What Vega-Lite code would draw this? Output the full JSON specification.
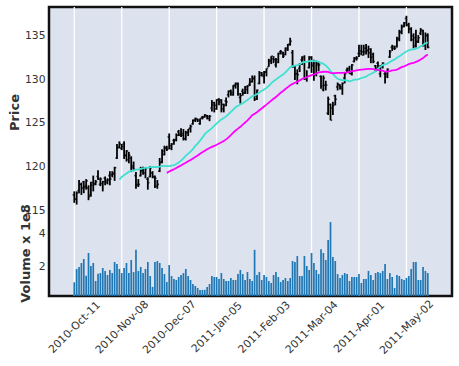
{
"$schema": "https://vega.github.io/schema/vega-lite/v6.json",
"width": 403, "height": 289,
"autosize": "none",
"padding": {"left": 49, "top": 7, "right": 7, "bottom": 70},
"background": "white",
"config": {
 "view": {"fill": "#DCE3EF", "stroke": "#111111", "strokeWidth": 2.5},
 "axis": {"labelFont": "DejaVu Sans", "labelFontSize": 10.8, "labelColor": "#333333", "titleFont": "DejaVu Sans", "titleFontSize": 13, "titleFontWeight": "bold", "titleColor": "#333333", "grid": false, "domain": false, "ticks": false, "labelPadding": 4}
},
"data": {"values": [
{"i":0,"date":"2010-10-11","open":116.8,"high":117.2,"low":115.9,"close":116.3,"volume":1.03},
{"i":1,"date":"2010-10-12","open":116.3,"high":117.2,"low":115.7,"close":117.0,"volume":1.84},
{"i":2,"date":"2010-10-13","open":117.3,"high":118.5,"low":117.0,"close":118.0,"volume":1.96},
{"i":3,"date":"2010-10-14","open":118.0,"high":118.2,"low":116.8,"close":117.6,"volume":2.20},
{"i":4,"date":"2010-10-15","open":118.3,"high":118.4,"low":117.0,"close":117.7,"volume":2.44},
{"i":5,"date":"2010-10-18","open":117.8,"high":118.6,"low":117.4,"close":118.4,"volume":1.43},
{"i":6,"date":"2010-10-19","open":117.6,"high":117.9,"low":116.2,"close":116.6,"volume":2.81},
{"i":7,"date":"2010-10-20","open":116.8,"high":118.3,"low":116.6,"close":117.9,"volume":2.02},
{"i":8,"date":"2010-10-21","open":118.2,"high":119.0,"low":117.2,"close":118.0,"volume":2.20},
{"i":9,"date":"2010-10-22","open":118.1,"high":118.5,"low":117.9,"close":118.3,"volume":1.11},
{"i":10,"date":"2010-10-25","open":118.9,"high":119.6,"low":118.5,"close":118.6,"volume":1.55},
{"i":11,"date":"2010-10-26","open":118.0,"high":118.8,"low":117.8,"close":118.6,"volume":1.59},
{"i":12,"date":"2010-10-27","open":118.1,"high":118.4,"low":117.2,"close":118.3,"volume":1.90},
{"i":13,"date":"2010-10-28","open":118.7,"high":118.9,"low":117.9,"close":118.4,"volume":1.72},
{"i":14,"date":"2010-10-29","open":118.2,"high":118.7,"low":118.0,"close":118.5,"volume":1.47},
{"i":15,"date":"2010-11-01","open":119.0,"high":119.5,"low":117.9,"close":118.6,"volume":1.78},
{"i":16,"date":"2010-11-02","open":119.1,"high":119.5,"low":118.8,"close":119.3,"volume":1.59},
{"i":17,"date":"2010-11-03","open":119.2,"high":120.0,"low":118.4,"close":119.9,"volume":2.26},
{"i":18,"date":"2010-11-04","open":121.0,"high":122.6,"low":120.9,"close":122.2,"volume":2.14},
{"i":19,"date":"2010-11-05","open":122.2,"high":122.9,"low":122.1,"close":122.6,"volume":1.84},
{"i":20,"date":"2010-11-08","open":122.1,"high":122.6,"low":121.9,"close":122.3,"volume":1.59},
{"i":21,"date":"2010-11-09","open":122.6,"high":122.9,"low":120.9,"close":121.3,"volume":1.90},
{"i":22,"date":"2010-11-10","open":121.3,"high":121.9,"low":120.6,"close":121.8,"volume":2.20},
{"i":23,"date":"2010-11-11","open":120.8,"high":121.7,"low":120.4,"close":121.3,"volume":1.59},
{"i":24,"date":"2010-11-12","open":121.0,"high":121.2,"low":119.4,"close":119.9,"volume":2.38},
{"i":25,"date":"2010-11-15","open":120.1,"high":120.6,"low":119.5,"close":119.7,"volume":1.65},
{"i":26,"date":"2010-11-16","open":119.0,"high":119.4,"low":117.5,"close":117.9,"volume":3.00},
{"i":27,"date":"2010-11-17","open":118.0,"high":118.6,"low":117.7,"close":118.0,"volume":1.72},
{"i":28,"date":"2010-11-18","open":119.0,"high":120.0,"low":118.9,"close":119.6,"volume":1.96},
{"i":29,"date":"2010-11-19","open":119.5,"high":120.0,"low":119.1,"close":119.9,"volume":1.59},
{"i":30,"date":"2010-11-22","open":119.3,"high":119.9,"low":118.7,"close":119.8,"volume":1.84},
{"i":31,"date":"2010-11-23","open":118.6,"high":118.8,"low":117.4,"close":118.2,"volume":2.26},
{"i":32,"date":"2010-11-24","open":118.9,"high":120.1,"low":118.8,"close":119.9,"volume":1.41},
{"i":33,"date":"2010-11-26","open":119.3,"high":119.5,"low":118.7,"close":118.9,"volume":0.75},
{"i":34,"date":"2010-11-29","open":118.8,"high":119.0,"low":117.6,"close":118.7,"volume":2.26},
{"i":35,"date":"2010-11-30","open":117.8,"high":118.5,"low":117.5,"close":118.0,"volume":2.32},
{"i":36,"date":"2010-12-01","open":119.5,"high":121.0,"low":119.4,"close":120.5,"volume":2.20},
{"i":37,"date":"2010-12-02","open":120.5,"high":122.0,"low":120.4,"close":121.8,"volume":1.90},
{"i":38,"date":"2010-12-03","open":121.4,"high":122.4,"low":121.3,"close":122.2,"volume":1.53},
{"i":39,"date":"2010-12-06","open":122.1,"high":122.4,"low":121.8,"close":122.0,"volume":1.05},
{"i":40,"date":"2010-12-07","open":123.4,"high":123.8,"low":122.0,"close":122.1,"volume":2.08},
{"i":41,"date":"2010-12-08","open":122.4,"high":122.7,"low":121.9,"close":122.6,"volume":1.41},
{"i":42,"date":"2010-12-09","open":123.0,"high":123.2,"low":122.5,"close":123.0,"volume":1.23},
{"i":43,"date":"2010-12-10","open":123.1,"high":123.8,"low":122.9,"close":123.6,"volume":1.17},
{"i":44,"date":"2010-12-13","open":124.0,"high":124.2,"low":123.5,"close":123.6,"volume":1.35},
{"i":45,"date":"2010-12-14","open":123.7,"high":124.4,"low":123.4,"close":123.8,"volume":1.47},
{"i":46,"date":"2010-12-15","open":123.6,"high":124.3,"low":123.0,"close":123.2,"volume":1.59},
{"i":47,"date":"2010-12-16","open":123.2,"high":124.1,"low":123.0,"close":123.9,"volume":1.84},
{"i":48,"date":"2010-12-17","open":123.9,"high":124.3,"low":123.5,"close":124.3,"volume":1.41},
{"i":49,"date":"2010-12-20","open":124.4,"high":124.8,"low":123.9,"close":124.6,"volume":1.17},
{"i":50,"date":"2010-12-21","open":124.9,"high":125.4,"low":124.8,"close":125.3,"volume":0.93},
{"i":51,"date":"2010-12-22","open":125.3,"high":125.6,"low":125.1,"close":125.5,"volume":0.81},
{"i":52,"date":"2010-12-23","open":125.4,"high":125.5,"low":125.1,"close":125.3,"volume":0.69},
{"i":53,"date":"2010-12-27","open":124.9,"high":125.5,"low":124.8,"close":125.5,"volume":0.57},
{"i":54,"date":"2010-12-28","open":125.6,"high":125.8,"low":125.4,"close":125.6,"volume":0.57},
{"i":55,"date":"2010-12-29","open":125.7,"high":126.0,"low":125.6,"close":125.9,"volume":0.57},
{"i":56,"date":"2010-12-30","open":125.8,"high":125.9,"low":125.4,"close":125.7,"volume":0.75},
{"i":57,"date":"2010-12-31","open":125.5,"high":125.9,"low":125.2,"close":125.75,"volume":0.93},
{"i":58,"date":"2011-01-03","open":126.7,"high":127.6,"low":126.3,"close":127.05,"volume":1.41},
{"i":59,"date":"2011-01-04","open":127.3,"high":127.4,"low":126.2,"close":127.0,"volume":1.35},
{"i":60,"date":"2011-01-05","open":126.6,"high":127.7,"low":126.5,"close":127.6,"volume":1.35},
{"i":61,"date":"2011-01-06","open":127.7,"high":127.8,"low":127.0,"close":127.4,"volume":1.23},
{"i":62,"date":"2011-01-07","open":127.6,"high":127.7,"low":126.2,"close":127.1,"volume":1.59},
{"i":63,"date":"2011-01-10","open":126.6,"high":127.2,"low":126.2,"close":127.0,"volume":1.23},
{"i":64,"date":"2011-01-11","open":127.5,"high":127.9,"low":126.9,"close":127.4,"volume":1.11},
{"i":65,"date":"2011-01-12","open":128.2,"high":128.7,"low":127.9,"close":128.6,"volume":1.11},
{"i":66,"date":"2011-01-13","open":128.6,"high":128.8,"low":128.1,"close":128.4,"volume":1.29},
{"i":67,"date":"2011-01-14","open":128.2,"high":129.3,"low":128.1,"close":129.3,"volume":1.17},
{"i":68,"date":"2011-01-18","open":129.2,"high":129.6,"low":128.9,"close":129.5,"volume":1.17},
{"i":69,"date":"2011-01-19","open":129.4,"high":129.6,"low":128.1,"close":128.3,"volume":1.53},
{"i":70,"date":"2011-01-20","open":127.9,"high":128.4,"low":127.2,"close":128.1,"volume":1.78},
{"i":71,"date":"2011-01-21","open":128.6,"high":128.9,"low":128.1,"close":128.4,"volume":1.53},
{"i":72,"date":"2011-01-24","open":128.4,"high":129.2,"low":128.3,"close":129.1,"volume":1.17},
{"i":73,"date":"2011-01-25","open":128.8,"high":129.3,"low":128.3,"close":129.2,"volume":1.65},
{"i":74,"date":"2011-01-26","open":129.4,"high":130.1,"low":129.2,"close":129.7,"volume":1.23},
{"i":75,"date":"2011-01-27","open":129.7,"high":130.4,"low":129.6,"close":130.0,"volume":1.11},
{"i":76,"date":"2011-01-28","open":130.1,"high":130.4,"low":127.5,"close":127.7,"volume":3.00},
{"i":77,"date":"2011-01-31","open":128.1,"high":128.8,"low":127.6,"close":128.7,"volume":1.47},
{"i":78,"date":"2011-02-01","open":129.5,"high":130.9,"low":129.4,"close":130.7,"volume":1.65},
{"i":79,"date":"2011-02-02","open":130.4,"high":130.8,"low":130.3,"close":130.5,"volume":1.17},
{"i":80,"date":"2011-02-03","open":130.3,"high":130.9,"low":129.5,"close":130.8,"volume":1.47},
{"i":81,"date":"2011-02-04","open":130.8,"high":131.2,"low":130.3,"close":131.2,"volume":1.35},
{"i":82,"date":"2011-02-07","open":131.4,"high":132.3,"low":131.4,"close":132.0,"volume":1.11},
{"i":83,"date":"2011-02-08","open":132.1,"high":132.6,"low":131.7,"close":132.6,"volume":0.99},
{"i":84,"date":"2011-02-09","open":132.3,"high":132.6,"low":131.8,"close":132.2,"volume":1.47},
{"i":85,"date":"2011-02-10","open":131.6,"high":132.4,"low":131.3,"close":132.2,"volume":1.65},
{"i":86,"date":"2011-02-11","open":131.9,"high":133.0,"low":131.8,"close":132.9,"volume":1.35},
{"i":87,"date":"2011-02-14","open":133.1,"high":133.3,"low":132.8,"close":133.1,"volume":1.05},
{"i":88,"date":"2011-02-15","open":132.9,"high":133.1,"low":132.4,"close":132.6,"volume":1.17},
{"i":89,"date":"2011-02-16","open":132.8,"high":133.6,"low":132.7,"close":133.5,"volume":1.29},
{"i":90,"date":"2011-02-17","open":133.3,"high":134.0,"low":133.2,"close":133.9,"volume":1.11},
{"i":91,"date":"2011-02-18","open":134.0,"high":134.7,"low":133.8,"close":134.3,"volume":1.29},
{"i":92,"date":"2011-02-22","open":133.0,"high":133.3,"low":131.3,"close":131.4,"volume":2.32},
{"i":93,"date":"2011-02-23","open":131.5,"high":131.6,"low":129.9,"close":130.6,"volume":2.26},
{"i":94,"date":"2011-02-24","open":130.6,"high":131.1,"low":129.4,"close":130.5,"volume":2.62},
{"i":95,"date":"2011-02-25","open":131.2,"high":131.8,"low":130.8,"close":131.7,"volume":1.41},
{"i":96,"date":"2011-02-28","open":132.2,"high":132.6,"low":131.6,"close":132.3,"volume":1.41},
{"i":97,"date":"2011-03-01","open":132.5,"high":132.7,"low":129.9,"close":130.1,"volume":2.62},
{"i":98,"date":"2011-03-02","open":130.0,"high":131.0,"low":129.7,"close":130.3,"volume":2.02},
{"i":99,"date":"2011-03-03","open":131.3,"high":132.6,"low":131.2,"close":132.5,"volume":1.78},
{"i":100,"date":"2011-03-04","open":132.4,"high":132.6,"low":130.7,"close":131.5,"volume":2.81},
{"i":101,"date":"2011-03-07","open":131.7,"high":132.2,"low":129.8,"close":130.6,"volume":2.20},
{"i":102,"date":"2011-03-08","open":130.6,"high":132.1,"low":130.3,"close":131.8,"volume":1.78},
{"i":103,"date":"2011-03-09","open":131.6,"high":132.0,"low":130.9,"close":131.6,"volume":1.53},
{"i":104,"date":"2011-03-10","open":130.3,"high":130.4,"low":128.9,"close":129.2,"volume":3.04},
{"i":105,"date":"2011-03-11","open":128.8,"high":130.4,"low":128.6,"close":130.1,"volume":2.81},
{"i":106,"date":"2011-03-14","open":129.3,"high":129.8,"low":128.7,"close":129.3,"volume":2.38},
{"i":107,"date":"2011-03-15","open":126.1,"high":128.0,"low":125.9,"close":127.7,"volume":3.59},
{"i":108,"date":"2011-03-16","open":127.1,"high":127.2,"low":125.3,"close":125.3,"volume":4.68},
{"i":109,"date":"2011-03-17","open":126.7,"high":127.4,"low":125.9,"close":127.0,"volume":2.56},
{"i":110,"date":"2011-03-18","open":128.1,"high":128.2,"low":127.0,"close":127.7,"volume":2.32},
{"i":111,"date":"2011-03-21","open":129.1,"high":129.6,"low":128.7,"close":129.4,"volume":1.53},
{"i":112,"date":"2011-03-22","open":129.3,"high":129.4,"low":128.8,"close":129.1,"volume":1.29},
{"i":113,"date":"2011-03-23","open":128.9,"high":129.6,"low":128.2,"close":129.5,"volume":1.47},
{"i":114,"date":"2011-03-24","open":130.1,"high":130.8,"low":129.5,"close":130.6,"volume":1.59},
{"i":115,"date":"2011-03-25","open":131.0,"high":131.3,"low":130.7,"close":131.0,"volume":1.53},
{"i":116,"date":"2011-03-28","open":131.2,"high":131.5,"low":130.6,"close":130.6,"volume":1.11},
{"i":117,"date":"2011-03-29","open":130.6,"high":131.7,"low":130.4,"close":131.6,"volume":1.35},
{"i":118,"date":"2011-03-30","open":132.0,"high":132.5,"low":131.9,"close":132.4,"volume":1.35},
{"i":119,"date":"2011-03-31","open":132.3,"high":132.6,"low":132.1,"close":132.4,"volume":1.35},
{"i":120,"date":"2011-04-01","open":132.9,"high":133.9,"low":132.5,"close":132.9,"volume":1.53},
{"i":121,"date":"2011-04-04","open":133.2,"high":133.9,"low":132.7,"close":133.1,"volume":0.99},
{"i":122,"date":"2011-04-05","open":132.7,"high":133.9,"low":132.7,"close":133.1,"volume":1.23},
{"i":123,"date":"2011-04-06","open":133.5,"high":134.0,"low":132.8,"close":133.3,"volume":1.23},
{"i":124,"date":"2011-04-07","open":133.2,"high":133.8,"low":132.4,"close":133.0,"volume":1.72},
{"i":125,"date":"2011-04-08","open":133.4,"high":133.5,"low":131.8,"close":132.5,"volume":1.47},
{"i":126,"date":"2011-04-11","open":132.8,"high":133.0,"low":131.8,"close":132.0,"volume":1.17},
{"i":127,"date":"2011-04-12","open":131.5,"high":131.6,"low":130.8,"close":131.2,"volume":1.59},
{"i":128,"date":"2011-04-13","open":131.8,"high":132.0,"low":130.9,"close":131.3,"volume":1.65},
{"i":129,"date":"2011-04-14","open":130.6,"high":131.6,"low":130.2,"close":131.4,"volume":1.59},
{"i":130,"date":"2011-04-15","open":131.6,"high":131.9,"low":131.2,"close":131.8,"volume":1.72},
{"i":131,"date":"2011-04-18","open":130.6,"high":130.9,"low":129.5,"close":130.3,"volume":2.14},
{"i":132,"date":"2011-04-19","open":130.6,"high":131.2,"low":130.1,"close":131.1,"volume":1.23},
{"i":133,"date":"2011-04-20","open":132.5,"high":133.3,"low":132.4,"close":133.1,"volume":1.59},
{"i":134,"date":"2011-04-21","open":133.6,"high":133.9,"low":133.2,"close":133.7,"volume":1.35},
{"i":135,"date":"2011-04-25","open":133.5,"high":133.8,"low":133.3,"close":133.5,"volume":0.69},
{"i":136,"date":"2011-04-26","open":133.7,"high":134.8,"low":133.6,"close":134.5,"volume":1.47},
{"i":137,"date":"2011-04-27","open":134.6,"high":135.6,"low":134.3,"close":135.4,"volume":1.41},
{"i":138,"date":"2011-04-28","open":135.3,"high":136.2,"low":135.1,"close":135.9,"volume":1.23},
{"i":139,"date":"2011-04-29","open":136.0,"high":136.5,"low":135.9,"close":136.4,"volume":1.17},
{"i":140,"date":"2011-05-02","open":136.9,"high":137.2,"low":136.0,"close":136.2,"volume":1.29},
{"i":141,"date":"2011-05-03","open":136.1,"high":136.4,"low":135.2,"close":135.7,"volume":1.41},
{"i":142,"date":"2011-05-04","open":135.7,"high":135.9,"low":134.3,"close":134.9,"volume":1.84},
{"i":143,"date":"2011-05-05","open":134.5,"high":135.2,"low":133.5,"close":133.8,"volume":2.26},
{"i":144,"date":"2011-05-06","open":134.7,"high":135.6,"low":133.6,"close":134.2,"volume":2.26},
{"i":145,"date":"2011-05-09","open":134.3,"high":135.0,"low":134.1,"close":134.7,"volume":1.17},
{"i":146,"date":"2011-05-10","open":135.2,"high":135.8,"low":135.0,"close":135.6,"volume":1.17},
{"i":147,"date":"2011-05-11","open":135.5,"high":135.6,"low":133.7,"close":134.0,"volume":1.96},
{"i":148,"date":"2011-05-12","open":133.8,"high":135.3,"low":133.3,"close":135.0,"volume":1.72},
{"i":149,"date":"2011-05-13","open":134.9,"high":135.2,"low":133.5,"close":133.6,"volume":1.59}
]},
"encoding": {
 "x": {"field": "i", "type": "quantitative", "scale": {"domain": [-8.55, 157.1], "nice": false, "zero": false},
  "axis": {"values": [0,20,40,60,80,100,120,140], "title": null, "grid": false,
   "labelExpr": "['2010-Oct-11','2010-Nov-08','2010-Dec-07','2011-Jan-05','2011-Feb-03','2011-Mar-04','2011-Apr-01','2011-May-02'][round(datum.value/20)]",
   "labelAngle": -45, "labelAlign": "center", "labelBaseline": "middle", "labelPadding": 31, "labelOverlap": false, "labelBound": false, "labelFlush": false}}
},
"layer": [
 {
  "layer": [
   {"data": {"values": [{"g":0},{"g":20},{"g":40},{"g":60},{"g":80},{"g":100},{"g":120},{"g":140}]},
    "mark": {"type": "rule", "color": "#ffffff", "strokeWidth": 1.3},
    "encoding": {"x": {"field": "g", "type": "quantitative"}, "y": {"datum": 138.2, "type": "quantitative"}, "y2": {"datum": 105.29}}},
   {"data": {"values": [{"p":115},{"p":120},{"p":125},{"p":130},{"p":135}]},
    "mark": {"type": "rule", "color": "#ffffff", "strokeWidth": 1.3},
    "encoding": {"x": {"datum": -8.55}, "x2": {"datum": 157.1}, "y": {"field": "p", "type": "quantitative"}}},
   {"mark": {"type": "rule", "color": "black", "strokeWidth": 1.8},
    "encoding": {
     "y": {"field": "low", "type": "quantitative", "title": "Price",
      "scale": {"domain": [114.74, 138.2], "range": [206, 0], "nice": false, "zero": false},
      "axis": {"values": [115,120,125,130,135], "title": "Price", "titleX": -35, "titleY": 105, "titleAngle": -90, "titleAlign": "center", "titleBaseline": "middle", "grid": false}},
     "y2": {"field": "high"}}},
   {"mark": {"type": "tick", "orient": "horizontal", "color": "black", "size": 1.6, "thickness": 1.6, "xOffset": -0.9},
    "encoding": {"y": {"field": "open", "type": "quantitative"}}},
   {"mark": {"type": "tick", "orient": "horizontal", "color": "black", "size": 1.6, "thickness": 1.6, "xOffset": 0.9},
    "encoding": {"y": {"field": "close", "type": "quantitative"}}},
   {"transform": [
     {"window": [{"op": "mean", "field": "close", "as": "ma20"}, {"op": "count", "field": "close", "as": "n20"}], "frame": [-19, 0], "sort": [{"field": "i"}]},
     {"filter": "datum.n20 >= 20"}],
    "mark": {"type": "line", "color": "#40e0d0", "strokeWidth": 1.8},
    "encoding": {"y": {"field": "ma20", "type": "quantitative"}}},
   {"transform": [
     {"window": [{"op": "mean", "field": "close", "as": "ma40"}, {"op": "count", "field": "close", "as": "n40"}], "frame": [-39, 0], "sort": [{"field": "i"}]},
     {"filter": "datum.n40 >= 40"}],
    "mark": {"type": "line", "color": "#ff00ff", "strokeWidth": 1.8},
    "encoding": {"y": {"field": "ma40", "type": "quantitative"}}}
  ]
 },
 {
  "layer": [
   {"data": {"values": [{"q":2},{"q":4}]},
    "mark": {"type": "rule", "color": "#ffffff", "strokeWidth": 1.3},
    "encoding": {"x": {"datum": -8.55}, "x2": {"datum": 157.1}, "y": {"field": "q", "type": "quantitative"}}},
   {"mark": {"type": "bar", "color": "#1f77b4", "size": 1.7, "clip": true},
    "encoding": {
     "y": {"field": "volume", "type": "quantitative", "title": "Volume x 1e8",
      "scale": {"domain": [0.2, 5.17], "range": [289, 207], "nice": false, "zero": false},
      "axis": {"orient": "left", "values": [2, 4], "format": "d", "title": "Volume x 1e8", "titleX": -24, "titleY": 246, "titleAngle": -90, "titleAlign": "center", "titleBaseline": "middle", "grid": false}}}},
   {"data": {"values": [{}]},
    "mark": {"type": "rule", "color": "#111111", "strokeWidth": 2.5},
    "encoding": {"x": {"datum": -8.55}, "x2": {"datum": 157.1}, "y": {"datum": 5.17}}}
  ]
 }
],
"resolve": {"scale": {"y": "independent"}}
}
